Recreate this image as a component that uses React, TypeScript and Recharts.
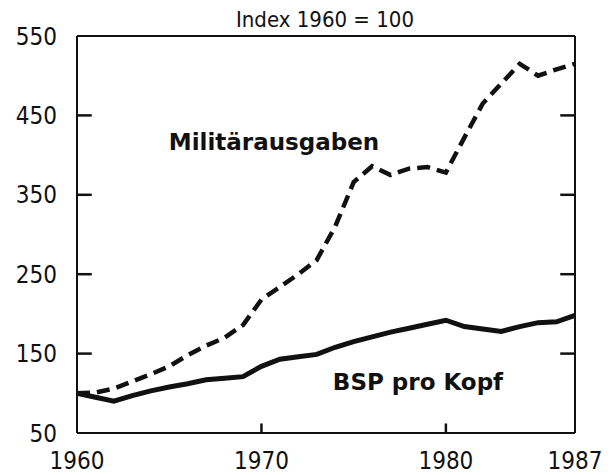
import { Customized, Line, LineChart, ReferenceLine, XAxis, YAxis } from "recharts"

// Jahre 1960–1987, Index 1960 = 100
const years = [
  1960, 1961, 1962, 1963, 1964, 1965, 1966, 1967, 1968, 1969,
  1970, 1971, 1972, 1973, 1974, 1975, 1976, 1977, 1978, 1979,
  1980, 1981, 1982, 1983, 1984, 1985, 1986, 1987,
]
const militaer = [
  100, 101, 106, 115, 124, 134, 148, 160, 170, 186,
  218, 234, 250, 268, 310, 366, 386, 375, 383, 385,
  378, 422, 465, 490, 515, 500, 508, 515,
]
const bsp = [
  100, 95, 90, 97, 103, 108, 112, 117, 119, 121,
  134, 143, 146, 149, 158, 165, 171, 177, 182, 187,
  192, 184, 181, 178, 184, 189, 190, 198,
]
const xTicks = [1960, 1970, 1980, 1987]
const yTicks = [50, 150, 250, 350, 450, 550]
const innerYTicks = [150, 250, 350, 450]
const innerXTicks = [1970, 1980]

const data = years.map((year, i) => ({ year, militaer: militaer[i], bsp: bsp[i] }))

const font = "'DejaVu Sans Condensed', 'Liberation Sans Narrow', sans-serif"
const boldFont = "'DejaVu Sans', 'Liberation Sans', sans-serif"
const ink = "#111"

// kurze Tickstriche nach innen (in Achseneinheiten)
const tickYears = 0.8
const tickIndex = 12

const LeftTick = (props: any) => (
  <text x={props.x} y={props.y} dy="0.36em" textAnchor="end" fontSize={24} fontFamily={font} fill={ink}>
    {props.payload.value}
  </text>
)

const BottomTick = (props: any) => (
  <text x={props.x} y={props.y} dy="0.72em" textAnchor="middle" fontSize={24} fontFamily={font} fill={ink}>
    {props.payload.value}
  </text>
)

const Annotations = () => (
  <g fill={ink}>
    <text x={325} y={27} textAnchor="middle" fontSize={22} fontFamily={font}>Index 1960 = 100</text>
    <text x={274} y={150} textAnchor="middle" fontSize={23} fontWeight="bold" fontFamily={boldFont}>Militärausgaben</text>
    <text x={418} y={390} textAnchor="middle" fontSize={23} fontWeight="bold" fontFamily={boldFont}>BSP pro Kopf</text>
  </g>
)

export default function App() {
  return (
    <div style={{ position: "absolute", left: 0, top: 0, background: "#fff" }}>
      <LineChart width={611} height={475} data={data} margin={{ top: 36, right: 36, bottom: 0, left: 0 }}>
        <XAxis
          dataKey="year"
          type="number"
          domain={[1960, 1987]}
          ticks={xTicks}
          interval={0}
          height={42}
          stroke={ink}
          strokeWidth={2}
          tickLine={false}
          tickSize={0}
          tickMargin={19}
          tick={BottomTick}
        />
        <YAxis
          type="number"
          domain={[50, 550]}
          ticks={yTicks}
          interval={0}
          width={77}
          stroke={ink}
          strokeWidth={2}
          tickLine={false}
          tickSize={0}
          tickMargin={20}
          tick={LeftTick}
        />
        <ReferenceLine y={550} stroke={ink} strokeWidth={2} />
        <ReferenceLine x={1987} stroke={ink} strokeWidth={2} />
        {innerYTicks.map((v) => (
          <ReferenceLine key={`l${v}`} segment={[{ x: 1960, y: v }, { x: 1960 + tickYears, y: v }]} stroke={ink} strokeWidth={2.5} />
        ))}
        {innerYTicks.map((v) => (
          <ReferenceLine key={`r${v}`} segment={[{ x: 1987 - tickYears, y: v }, { x: 1987, y: v }]} stroke={ink} strokeWidth={2.5} />
        ))}
        {innerXTicks.map((t) => (
          <ReferenceLine key={`b${t}`} segment={[{ x: t, y: 50 }, { x: t, y: 50 + tickIndex }]} stroke={ink} strokeWidth={2.5} />
        ))}
        <Line dataKey="militaer" type="linear" stroke={ink} strokeWidth={4.5} strokeDasharray="13 7" dot={false} isAnimationActive={false} />
        <Line dataKey="bsp" type="linear" stroke={ink} strokeWidth={5} dot={false} isAnimationActive={false} />
        <Customized component={Annotations} />
      </LineChart>
    </div>
  )
}
